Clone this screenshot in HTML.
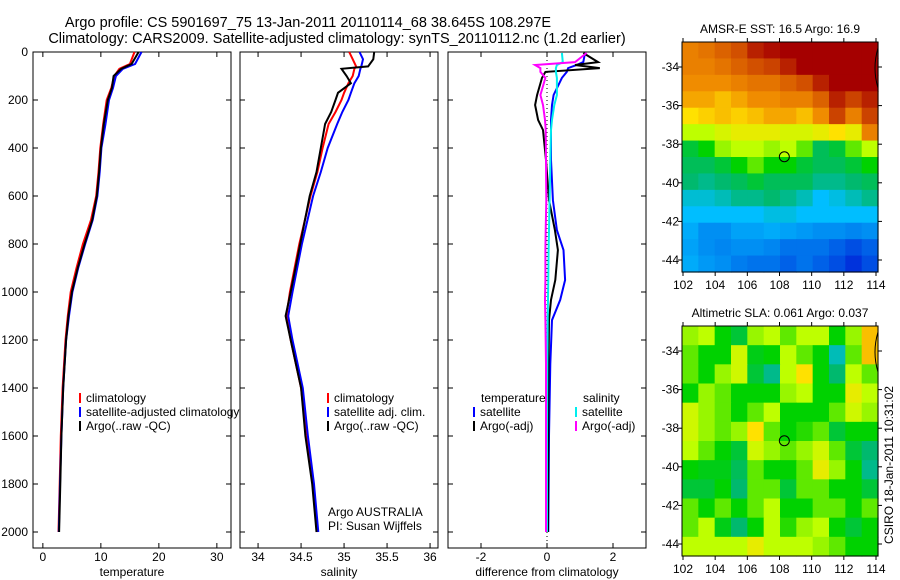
<!DOCTYPE html>
<html><head><meta charset="utf-8">
<style>
body{margin:0;background:#fff;}
svg{display:block;font-family:"Liberation Sans",sans-serif;}
text{font-size:12px;fill:#000;}
</style></head>
<body>
<svg id="fig" width="900" height="580" viewBox="0 0 900 580">
<text x="308" y="27" text-anchor="middle" style="font-size:14.5px">Argo profile: CS 5901697_75 13-Jan-2011 20110114_68 38.645S 108.297E</text>
<text x="337" y="43" text-anchor="middle" style="font-size:14.5px">Climatology: CARS2009. Satellite-adjusted climatology: synTS_20110112.nc (1.2d earlier)</text>
<g id="g"></g>
</svg>
<script>
// ---- data ----
const depthTicks=[0,200,400,600,800,1000,1200,1400,1600,1800,2000];
const tempTicks=[0,10,20,30];
const salTicks=[34,34.5,35,35.5,36];
const diffTicks=[-2,0,2];
const lonTicks=[102,104,106,108,110,112,114];
const latTicks=[-34,-36,-38,-40,-42,-44];

const tDepth=[0,50,70,100,150,200,300,400,500,600,700,800,900,1000,1100,1200,1400,1600,1800,2000];
const tClim=[15.8,15.0,13.2,12.3,11.8,11.0,10.4,9.9,9.6,9.2,8.3,6.9,5.8,4.8,4.3,3.9,3.4,3.1,2.9,2.7];
const tSat=[17.0,15.9,13.8,12.6,12.1,11.4,10.8,10.1,9.8,9.4,8.6,7.3,6.1,5.1,4.5,4.0,3.5,3.2,2.95,2.75];
const tArgo=[16.5,15.3,13.5,12.2,11.9,11.2,10.5,10.0,9.7,9.3,8.5,7.2,6.0,5.0,4.4,4.0,3.5,3.2,3.0,2.8];

const sDepth=[0,30,60,70,100,130,170,200,250,300,400,500,600,800,1000,1100,1200,1400,1600,1800,2000];
const sClim=[35.06,35.1,35.14,35.12,35.1,35.05,35.0,34.97,34.9,34.82,34.75,34.69,34.61,34.48,34.37,34.33,34.38,34.5,34.56,34.64,34.69];
const sSat=[35.18,35.22,35.2,35.19,35.17,35.12,35.08,35.05,34.98,34.92,34.81,34.73,34.64,34.51,34.4,34.35,34.4,34.52,34.58,34.65,34.7];
const sArgo=[35.35,35.34,35.28,34.97,35.03,35.08,34.93,34.9,34.85,34.78,34.73,34.68,34.6,34.49,34.38,34.32,34.38,34.5,34.55,34.63,34.68];

const dDepth=[4,42,54,67,83,108,179,221,283,325,450,617,742,825,950,1033,1117,1300,1600,2000];
const dTArgo=[1.1,1.55,0.85,1.6,-0.05,-0.15,-0.3,-0.36,-0.27,-0.12,-0.03,0.06,0.24,0.33,0.25,0.12,0.06,0.05,0.04,0.03];
const dTSat=[1.15,1.1,0.9,0.64,0.6,0.45,0.2,0.15,0.12,0.12,0.12,0.18,0.3,0.5,0.55,0.4,0.15,0.1,0.06,0.04];
const dSArgo=[1.2,0.85,-0.36,-0.2,-0.2,-0.05,-0.2,-0.12,-0.06,-0.04,-0.03,-0.02,-0.04,-0.05,-0.05,-0.06,-0.05,-0.03,-0.03,-0.03];
const dSSat=[0.45,0.48,0.3,0.27,0.27,0.3,0.3,0.22,0.15,0.12,0.1,0.08,0.06,0.05,0.04,0.03,0.02,0.01,0.0,0.0];

const sstGrid=[
[0.80,0.82,0.85,0.88,0.95,0.98,1,1,1,1,1,1],
[0.80,0.80,0.82,0.85,0.88,0.90,0.95,1,1,1,1,1],
[0.78,0.78,0.78,0.80,0.82,0.82,0.85,0.88,0.95,1,1,1],
[0.75,0.75,0.72,0.75,0.78,0.78,0.80,0.80,0.85,0.95,0.90,0.95],
[0.68,0.70,0.72,0.70,0.72,0.75,0.75,0.72,0.78,0.90,0.80,0.90],
[0.60,0.60,0.63,0.65,0.65,0.65,0.63,0.63,0.65,0.68,0.65,0.80],
[0.45,0.50,0.58,0.60,0.60,0.58,0.60,0.55,0.42,0.45,0.55,0.60],
[0.42,0.42,0.45,0.50,0.55,0.50,0.50,0.45,0.42,0.42,0.45,0.50],
[0.40,0.38,0.40,0.42,0.45,0.42,0.42,0.42,0.38,0.38,0.40,0.42],
[0.33,0.33,0.35,0.38,0.38,0.40,0.38,0.35,0.30,0.32,0.35,0.38],
[0.30,0.30,0.30,0.30,0.30,0.32,0.32,0.30,0.30,0.30,0.30,0.30],
[0.28,0.25,0.25,0.27,0.27,0.28,0.27,0.26,0.25,0.25,0.24,0.25],
[0.27,0.25,0.24,0.25,0.25,0.24,0.22,0.22,0.22,0.20,0.18,0.20],
[0.28,0.26,0.25,0.23,0.22,0.22,0.20,0.22,0.20,0.18,0.15,0.18]];
const slaGrid=[
[0.58,0.60,0.50,0.45,0.58,0.60,0.55,0.60,0.60,0.50,0.58,0.72],
[0.55,0.50,0.50,0.62,0.48,0.50,0.60,0.55,0.50,0.35,0.55,0.72],
[0.55,0.50,0.58,0.62,0.45,0.38,0.60,0.68,0.50,0.40,0.60,0.55],
[0.50,0.58,0.55,0.50,0.50,0.50,0.58,0.60,0.50,0.50,0.65,0.60],
[0.62,0.58,0.55,0.50,0.55,0.60,0.50,0.50,0.50,0.55,0.62,0.58],
[0.62,0.58,0.55,0.58,0.68,0.55,0.50,0.52,0.55,0.45,0.50,0.50],
[0.60,0.55,0.50,0.45,0.62,0.58,0.55,0.58,0.62,0.55,0.45,0.40],
[0.50,0.48,0.48,0.42,0.55,0.50,0.50,0.55,0.65,0.58,0.50,0.38],
[0.45,0.45,0.50,0.40,0.55,0.55,0.45,0.55,0.55,0.50,0.50,0.45],
[0.55,0.50,0.55,0.50,0.55,0.60,0.50,0.50,0.55,0.55,0.50,0.55],
[0.55,0.60,0.48,0.40,0.50,0.60,0.52,0.58,0.60,0.50,0.45,0.50],
[0.60,0.60,0.60,0.60,0.65,0.60,0.60,0.60,0.58,0.55,0.50,0.50]];
const argoLon=108.3, argoLat=-38.65;

// ---- helpers ----
const NS="http://www.w3.org/2000/svg";
const G=document.getElementById('g');
function mk(tag,attrs,parent){const e=document.createElementNS(NS,tag);for(const k in attrs)e.setAttribute(k,attrs[k]);(parent||G).appendChild(e);return e;}
const Y0=52, YS=0.24;
const yD=d=>Y0+d*YS;
function panel(name,x0,x1,xs,v0,ticks,label){
  const xf=v=>x0+(v-v0)*xs;
  const g=mk('g',{});
  
  
  mk('rect',{x:x0,y:Y0,width:x1-x0,height:548-Y0,fill:'#fff',stroke:'#000','stroke-width':1},g);
  ticks.forEach(t=>{const x=xf(t);
    mk('line',{x1:x,x2:x,y1:Y0,y2:Y0+5,stroke:'#000'},g);
    mk('line',{x1:x,x2:x,y1:548,y2:543,stroke:'#000'},g);
    const tx=mk('text',{x:x,y:561,'text-anchor':'middle'},g);tx.textContent=t;
    
    });
  depthTicks.forEach(d=>{const y=yD(d);
    mk('line',{x1:x0,x2:x0+5,y1:y,y2:y,stroke:'#000'},g);
    mk('line',{x1:x1,x2:x1-5,y1:y,y2:y,stroke:'#000'},g);});
  const lb=mk('text',{x:(x0+x1)/2,y:576,'text-anchor':'middle'},g);lb.textContent=label;
  
  
  return {xf,g};
}
function line(p,depths,vals,color,name,w){
  const pts=depths.map((d,i)=>p.xf(vals[i]).toFixed(1)+','+yD(d).toFixed(1)).join(' ');
  const l=mk('polyline',{points:pts,fill:'none',stroke:color,'stroke-width':w||2},p.g);
  
  
}
function legend(p,x,y,items){
  items.forEach((it,i)=>{const yy=y+i*14;
    mk('line',{x1:x,x2:x,y1:yy-9,y2:yy+1,stroke:it[1],'stroke-width':2},p.g);
    const t=mk('text',{x:x+6,y:yy},p.g);t.textContent=it[0];
    
    });
}
depthTicks.forEach(d=>{const t=mk('text',{x:28,y:yD(d)+4,'text-anchor':'end'});t.textContent=d;
  
  });

const p1=panel('temperature-panel',33,231,5.8,-1.7,tempTicks,'temperature');
line(p1,tDepth,tClim,'#f00','temp-climatology-line');
line(p1,tDepth,tSat,'#00f','temp-satellite-line');
line(p1,tDepth,tArgo,'#000','temp-argo-line');
legend(p1,80,402,[['climatology','#f00'],['satellite-adjusted climatology','#00f'],['Argo(..raw -QC)','#000']]);

const p2=panel('salinity-panel',240,438,86,33.79,salTicks,'salinity');
line(p2,sDepth,sClim,'#f00','sal-climatology-line');
line(p2,sDepth,sSat,'#00f','sal-satellite-line');
line(p2,sDepth,sArgo,'#000','sal-argo-line');
legend(p2,328,402,[['climatology','#f00'],['satellite adj. clim.','#00f'],['Argo(..raw -QC)','#000']]);
const a1=mk('text',{x:328,y:516},p2.g);a1.textContent='Argo AUSTRALIA';


const a2=mk('text',{x:328,y:530},p2.g);a2.textContent='PI: Susan Wijffels';



const p3=panel('difference-panel',448,646,33,-3.00,diffTicks,'difference from climatology');
mk('line',{x1:p3.xf(0),x2:p3.xf(0),y1:Y0,y2:548,stroke:'#000','stroke-dasharray':'1,3'},p3.g);
line(p3,dDepth,dTSat,'#00f','diff-temp-satellite-line');
line(p3,dDepth,dTArgo,'#000','diff-temp-argo-line');
line(p3,dDepth,dSSat,'#0ee','diff-sal-satellite-line');
line(p3,dDepth,dSArgo,'#f0f','diff-sal-argo-line');
const th=mk('text',{x:481,y:402},p3.g);th.textContent='temperature';


const sh=mk('text',{x:583,y:402},p3.g);sh.textContent='salinity';


legend(p3,474,416,[['satellite','#00f'],['Argo(-adj)','#000']]);
legend(p3,576,416,[['satellite','#0ee'],['Argo(-adj)','#f0f']]);

const cstops=[[0,[0,0,140]],[0.15,[0,50,220]],[0.3,[0,190,255]],[0.4,[0,185,110]],[0.5,[0,210,0]],[0.6,[190,255,0]],[0.68,[255,225,0]],[0.78,[240,140,0]],[0.88,[210,80,0]],[1,[165,0,0]]];
function cmap(v){for(let i=1;i<cstops.length;i++){if(v<=cstops[i][0]){const a=cstops[i-1],b=cstops[i];const f=(v-a[0])/(b[0]-a[0]);
  const c=a[1].map((x,k)=>Math.round(x+(b[1][k]-x)*f));return 'rgb('+c.join(',')+')';}}return 'rgb(165,0,0)';}
function map(name,grid,x0,x1,y0,y1,lat34,lat44,title){
  const g=mk('g',{});
  
  
  const lonX=l=>683+(l-102)*(876-683)/12;
  const latY=l=>lat34+(-34-l)*(lat44-lat34)/10;
  const rows=grid.length,cols=grid[0].length;
  const cw=(x1-x0)/cols,ch=(y1-y0)/rows;
  grid.forEach((r,i)=>r.forEach((v,j)=>{
    const c=mk('rect',{x:x0+j*cw,y:y0+i*ch,width:cw+0.6,height:ch+0.6,fill:cmap(v)},g);
    
    }));
  mk('rect',{x:x0,y:y0,width:x1-x0,height:y1-y0,fill:'none',stroke:'#000'},g);
  lonTicks.forEach(l=>{const x=lonX(l);mk('line',{x1:x,x2:x,y1:y0,y2:y0-4,stroke:'#000'},g);mk('line',{x1:x,x2:x,y1:y1,y2:y1+4,stroke:'#000'},g);
    const t=mk('text',{x:x,y:y1+17,'text-anchor':'middle'},g);t.textContent=l;
    
    });
  latTicks.forEach(l=>{const y=latY(l);mk('line',{x1:x0,x2:x0-4,y1:y,y2:y,stroke:'#000'},g);mk('line',{x1:x1,x2:x1+4,y1:y,y2:y,stroke:'#000'},g);
    const t=mk('text',{x:x0-3,y:y+4,'text-anchor':'end'},g);t.textContent=l;
    
    });
  const c=mk('circle',{cx:lonX(argoLon),cy:latY(argoLat),r:5,fill:'none',stroke:'#000'},g);
  
  
  mk('path',{d:`M${x1} ${y0+6} q-6 20 0 40`,fill:'none',stroke:'#000'},g);
  const t=mk('text',{x:(x0+x1)/2,y:y0-9,'text-anchor':'middle'},g);t.textContent=title;
  
  
}
map('sst-map',sstGrid,682,878,42,272,67,260,'AMSR-E SST: 16.5 Argo: 16.9');
map('sla-map',slaGrid,682,878,326,556,351,544,'Altimetric SLA: 0.061 Argo: 0.037');
const cs=mk('text',{x:0,y:0,'text-anchor':'middle',transform:'translate(893,465) rotate(-90)'});
cs.textContent='CSIRO 18-Jan-2011 10:31:02';


</script>
</body></html>
